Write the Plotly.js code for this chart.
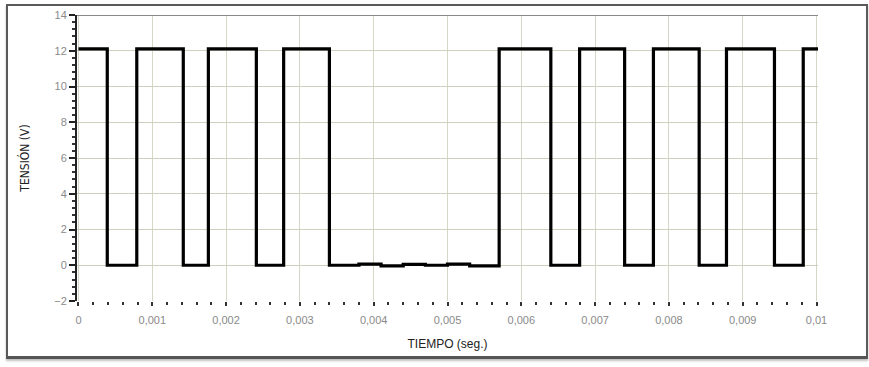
<!DOCTYPE html>
<html>
<head>
<meta charset="utf-8">
<script src="https://cdn.plot.ly/plotly-3.0.1.min.js"></script>
<style>
  html, body { margin:0; padding:0; background:#fff; }
  #wrap { position:relative; width:869px; height:367px; }
  #chart { position:absolute; left:0; top:0; width:869px; height:367px; }
  #frame { position:absolute; left:6px; top:4px; width:858px; height:350px;
           border:2px solid #5a5a5a; border-bottom:3px solid #555; pointer-events:none;
           box-shadow: 0 2px 2px rgba(0,0,0,0.25); }
</style>
</head>
<body>
<div id="wrap">
  <div id="chart"></div>
  <div id="frame"></div>
</div>
<script>
// Step waveform: time at which each level starts, and the level (V)
var tiempo = [0, 0.00039, 0.00079, 0.00142, 0.00176, 0.00241, 0.00278, 0.00340,
              0.00380, 0.00410, 0.00440, 0.00470, 0.00500, 0.00530,
              0.00570, 0.00640, 0.00679, 0.00740, 0.00779, 0.00841, 0.00878,
              0.00943, 0.00982, 0.01003];
var tension = [12.1, 0.0, 12.1, 0.0, 12.1, 0.0, 12.1, 0.0,
               0.06, -0.04, 0.05, 0.0, 0.06, -0.03,
               12.1, 0.0, 12.1, 0.0, 12.1, 0.0, 12.1,
               0.0, 12.1, 12.1];

var xTitle = "TIEMPO (seg.)";
var yTitle = "TENSIÓN (V)";

var trace = {
  x: tiempo, y: tension, type: 'scatter', mode: 'lines',
  line: {shape: 'hv', color: '#000', width: 3.2},
  hoverinfo: 'none'
};

var layout = {
  width: 869, height: 367,
  margin: {l: 77, r: 51, t: 15, b: 66},
  paper_bgcolor: 'rgba(0,0,0,0)', plot_bgcolor: '#fff',
  separators: ',.',
  showlegend: false,
  font: {family: 'Liberation Sans, Arial, sans-serif', color: '#888', size: 11},
  xaxis: {
    range: [-0.00002, 0.01002],
    dtick: 0.001, tick0: 0,
    showgrid: true, gridcolor: '#d6d6c6', gridwidth: 1,
    zeroline: false, showline: false,
    ticks: 'outside', ticklen: 4, tickwidth: 2, tickcolor: '#333',
    ticklabelstandoff: 5,
    minor: {dtick: 0.0002, ticks: 'outside', ticklen: 3, tickwidth: 2, tickcolor: '#333', showgrid: false},
    tickfont: {size: 11, color: '#8a8a8a'},
    title: {text: xTitle, font: {size: 12, color: '#222'}, standoff: 14}
  },
  yaxis: {
    range: [-2, 14], dtick: 2, tick0: 0,
    showgrid: true, gridcolor: '#cfcfc0', gridwidth: 1,
    zeroline: false, showline: true, linecolor: '#222', linewidth: 2,
    ticks: 'outside', ticklen: 6, tickwidth: 2, tickcolor: '#222',
    minor: {dtick: 0.4, ticks: 'outside', ticklen: 3, tickwidth: 2, tickcolor: '#333', showgrid: false},
    tickfont: {size: 11, color: '#8a8a8a'},
    title: {text: yTitle, font: {family: 'DejaVu Sans Condensed, Liberation Sans Narrow, sans-serif', size: 12, color: '#222'}, standoff: 22}
  },
  shapes: [
    {type: 'line', xref: 'paper', yref: 'y', x0: 0, x1: 1, y0: 14, y1: 14,
     line: {color: '#8a8a8a', width: 2}}
  ]
};

Plotly.newPlot('chart', [trace], layout, {staticPlot: true, displayModeBar: false});
</script>
</body>
</html>
